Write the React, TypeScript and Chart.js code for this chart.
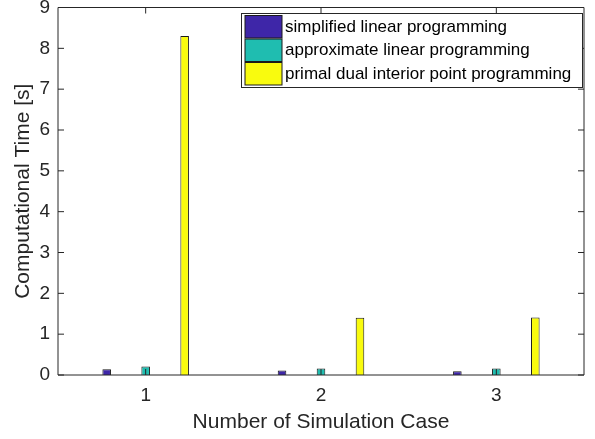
import React, { useEffect, useRef } from "react";
import { Chart, registerables } from "chart.js";

Chart.register(...registerables);

const categories = ["1", "2", "3"];
const seriesNames = [
  "simplified linear programming",
  "approximate linear programming",
  "primal dual interior point programming",
];
const simplifiedLP = [0.14, 0.11, 0.09];
const approximateLP = [0.21, 0.16, 0.16];
const primalDualIP = [8.3, 1.4, 1.41];
const seriesColors = ["#3e26a8", "#1fbdb0", "#f9fb0e"];
const yMin = 0;
const yMax = 9;
const yStep = 1;

const FONT = "'Liberation Sans', Arial, Helvetica, sans-serif";
const AXIS_COLOR = "#262626";

const frameAndTicks = {
  id: "frameAndTicks",
  afterDatasetsDraw(chart: any) {
    const { ctx, chartArea } = chart;
    const { left, right, top, bottom } = chartArea;
    const xs = chart.scales.x;
    const ys = chart.scales.y;
    const tl = 6;
    ctx.save();
    ctx.strokeStyle = AXIS_COLOR;
    ctx.lineWidth = 1;
    ctx.beginPath();
    ctx.rect(left, top, right - left, bottom - top);
    ctx.stroke();
    ctx.beginPath();
    for (let v = yMin; v <= yMax; v += yStep) {
      const y = ys.getPixelForValue(v);
      ctx.moveTo(left, y);
      ctx.lineTo(left + tl, y);
      ctx.moveTo(right, y);
      ctx.lineTo(right - tl, y);
    }
    for (let i = 0; i < categories.length; i++) {
      const x = xs.getPixelForTick(i);
      ctx.moveTo(x, bottom);
      ctx.lineTo(x, bottom - tl);
      ctx.moveTo(x, top);
      ctx.lineTo(x, top + tl);
    }
    ctx.stroke();
    ctx.restore();
  },
};

const boxLegend = {
  id: "boxLegend",
  afterDraw(chart: any) {
    const { ctx } = chart;
    const ds = chart.data.datasets;
    const bx = 241.5;
    const by = 13.5;
    const bw = 341;
    const rowH = 23.5;
    const bh = 74;
    ctx.save();
    ctx.fillStyle = "#ffffff";
    ctx.fillRect(bx, by, bw, bh);
    ctx.strokeStyle = AXIS_COLOR;
    ctx.lineWidth = 1;
    ctx.strokeRect(bx, by, bw, bh);
    ctx.font = `17px ${FONT}`;
    ctx.textBaseline = "middle";
    ctx.textAlign = "left";
    ds.forEach((d: any, i: number) => {
      const sy = by + 2 + i * rowH;
      ctx.fillStyle = d.backgroundColor;
      ctx.fillRect(bx + 3.5, sy, 37, rowH - 1);
      ctx.strokeStyle = "#1a1a1a";
      ctx.strokeRect(bx + 3.5, sy, 37, rowH - 1);
      ctx.fillStyle = "#000000";
      ctx.fillText(d.label, bx + 43.5, sy + rowH / 2);
    });
    ctx.restore();
  },
};

export default function App() {
  const ref = useRef<HTMLCanvasElement>(null);
  useEffect(() => {
    if (!ref.current) return;
    const values = [simplifiedLP, approximateLP, primalDualIP];
    const chart = new Chart(ref.current, {
      type: "bar",
      data: {
        labels: categories,
        datasets: values.map((vals, i) => ({
          label: seriesNames[i],
          data: vals,
          backgroundColor: seriesColors[i],
          borderColor: "#1a1a1a",
          borderWidth: 1,
          categoryPercentage: 0.667,
          barPercentage: 0.22,
        })),
      },
      options: {
        responsive: false,
        animation: false,
        events: [],
        layout: { padding: { top: 7.5, right: 11, left: 0, bottom: 0 } },
        plugins: { legend: { display: false }, tooltip: { enabled: false } },
        scales: {
          x: {
            offset: true,
            grid: { display: false, drawTicks: false },
            border: { display: false },
            ticks: {
              color: AXIS_COLOR,
              font: { family: FONT, size: 19 },
              padding: 9,
              maxRotation: 0,
            },
            title: {
              display: true,
              text: "Number of Simulation Case",
              color: AXIS_COLOR,
              font: { family: FONT, size: 21 },
              padding: { top: 0, bottom: 4 },
            },
            afterFit(scale: any) {
              scale.height = 64;
              scale.paddingLeft = 0;
              scale.paddingRight = 0;
            },
          },
          y: {
            min: yMin,
            max: yMax,
            grid: { display: false, drawTicks: false },
            border: { display: false },
            ticks: {
              stepSize: yStep,
              color: AXIS_COLOR,
              font: { family: FONT, size: 19 },
              padding: 8,
            },
            title: {
              display: true,
              text: "Computational Time [s]",
              color: AXIS_COLOR,
              font: { family: FONT, size: 21 },
              padding: { top: 11, bottom: 0 },
            },
            afterFit(scale: any) {
              scale.width = 58;
              scale.paddingTop = 0;
              scale.paddingBottom = 0;
            },
          },
        },
      },
      plugins: [frameAndTicks, boxLegend],
    });
    return () => chart.destroy();
  }, []);
  return (
    <div style={{ position: "absolute", left: 0, top: 0, width: 595, height: 439, background: "#fff" }}>
      <canvas ref={ref} width={595} height={439} />
    </div>
  );
}
